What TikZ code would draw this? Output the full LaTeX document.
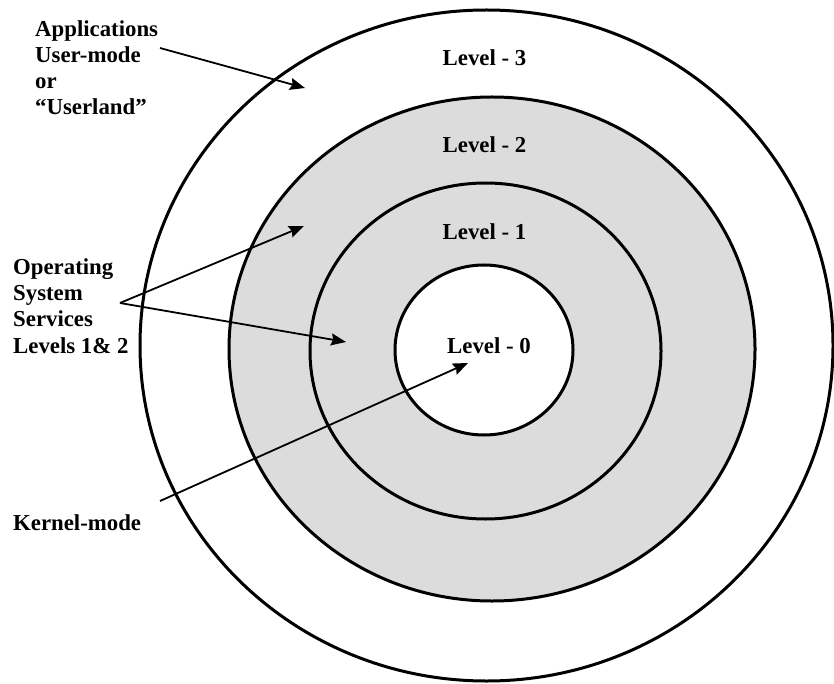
\documentclass[tikz,border=0pt]{standalone}
\usepackage{fontspec}
\setmainfont{Liberation Serif}
\usetikzlibrary{arrows.meta}
\definecolor{ringgray}{RGB}{220,220,220}

\begin{document}
\begin{tikzpicture}[x=1pt,y=-1pt,
  ring/.style={draw,line width=3pt},
  side node/.style={anchor=base west,align=left,inner sep=0pt,
    font=\fontsize{22.8}{26.3}\selectfont\bfseries},
  level node/.style={anchor=base,inner sep=0pt,font=\fontsize{22.8}{26.3}\selectfont\bfseries},
  pointer/.style={-{Stealth[length=15pt,width=12pt,inset=2pt]},line width=1.8pt}]

  \useasboundingbox (0,0) rectangle (834,684);

  % shaded band for levels 1 and 2
  \fill[ringgray] (492,349) ellipse [x radius=263, y radius=252];
  \fill[white] (484,350) ellipse [x radius=89, y radius=85];

  \draw[ring] (486.5,345.5) ellipse [x radius=346.5, y radius=335.5];
  \draw[ring] (492,349) ellipse [x radius=263, y radius=252];
  \draw[ring] (485.5,351) ellipse [x radius=175.5, y radius=168];
  \draw[ring] (484,350) ellipse [x radius=89, y radius=85];

  \node[level node] (l3) at (484.5,66) {Level - 3};
  \node[level node] (l2) at (484.5,153) {Level - 2};
  \node[level node] (l1) at (484.5,240) {Level - 1};
  \node[level node] (l0) at (489,353) {Level - 0};

  % anchor base = baseline of the last line
  \node[side node] (apps) at (35,115) {Applications\\User-mode\\or\\“Userland”};
  \node[side node] (os) at (13,353) {Operating\\System\\Services\\Levels 1\& 2};
  \node[side node] (kernel) at (13,530) {Kernel-mode};

  \coordinate (appsfrom) at (160,48);
  \coordinate (appsto) at (305,88);
  \coordinate (osfrom) at (120,303);
  \coordinate (osto2) at (304,226);
  \coordinate (osto1) at (346,342);
  \coordinate (kernelfrom) at (160,501);
  \coordinate (kernelto) at (468,363);

  \draw[pointer] (appsfrom) -- (appsto);
  \draw[pointer] (osfrom) -- (osto2);
  \draw[pointer] (osfrom) -- (osto1);
  \draw[pointer] (kernelfrom) -- (kernelto);
\end{tikzpicture}
\end{document}
